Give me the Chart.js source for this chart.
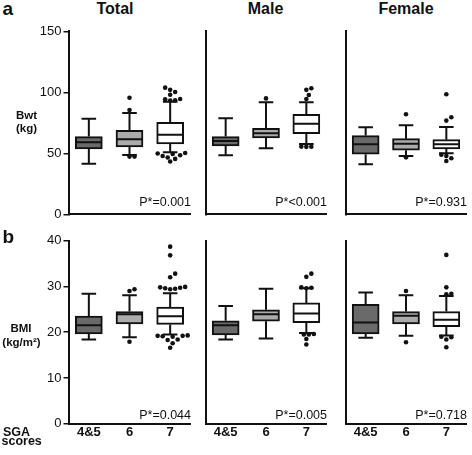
<!DOCTYPE html>
<html>
<head>
<meta charset="utf-8">
<script src="https://cdn.jsdelivr.net/npm/chart.js@4.4.0/dist/chart.umd.min.js"></script>
<style>
  html, body { margin: 0; padding: 0; background: #fff; }
  body { width: 472px; height: 455px; position: relative; overflow: hidden;
         font-family: "Liberation Sans", Arial, sans-serif; color: #111; }
  canvas { position: absolute; }
  .txt { position: absolute; white-space: nowrap; line-height: 1; width: 200px; }
</style>
</head>
<body>
<script>
// x categories and y tick labels
const sgaLabels = ['4&5', '6', '7'];
const bwtTicks = [0, 50, 100, 150];
const bmiTicks = [0, 10, 20, 30, 40];

// five-number summaries per SGA group: [lower whisker, Q1, median, Q3, upper whisker]
const bwtTotal  = [[41.5, 53.6, 59.0, 63.7, 78.4], [48.6, 55.2, 61.5, 68.9, 83.1], [50.8, 57.6, 65.3, 75.4, 92.3]];
const bwtMale   = [[48.4, 56.0, 60.1, 63.7, 78.7], [54.1, 62.6, 66.4, 70.5, 91.8], [57.7, 66.1, 74.3, 82.0, 91.8]];
const bwtFemale = [[41.0, 49.2, 57.4, 64.5, 71.3], [47.8, 52.5, 57.9, 62.0, 73.0], [50.0, 53.6, 57.4, 61.2, 71.6]];
const bmiTotal  = [[18.4, 19.6, 21.5, 23.5, 28.4], [18.9, 21.8, 23.9, 24.5, 28.1], [19.5, 21.7, 23.5, 25.5, 28.5]];
const bmiMale   = [[18.4, 19.4, 21.5, 22.5, 25.7], [18.6, 22.4, 23.9, 24.9, 29.5], [19.8, 22.1, 24.1, 26.4, 29.6]];
const bmiFemale = [[18.8, 19.6, 22.1, 26.1, 28.7], [19.2, 21.8, 23.6, 24.5, 28.1], [19.3, 21.2, 22.7, 24.5, 27.9]];

// outliers per SGA group
const bwtTotalOut  = [[], [95.5, 85.5, 47.3, 47.3],
  [103.8, 102.0, 100.2, 98.0, 94.5, 94.3, 93.4, 93.2, 50.2, 49.8, 49.4, 48.4, 47.8, 46.5, 45.4, 43.3]];
const bwtMaleOut   = [[], [95.0], [103.3, 102.0, 97.8, 94.5, 55.5, 55.4, 55.3]];
const bwtFemaleOut = [[], [82.0, 46.7], [98.4, 79.5, 76.8, 48.8, 47.8, 45.9, 43.7]];
const bmiTotalOut  = [[], [29.4, 29.0, 17.9],
  [38.7, 36.8, 32.8, 32.0, 29.9, 29.8, 29.7, 29.6, 29.5, 29.4, 19.3, 19.2, 19.2, 19.1, 19.0, 18.4, 18.3, 17.6, 16.6]];
const bmiMaleOut   = [[], [], [32.8, 32.1, 29.8, 29.7, 29.6, 19.6, 19.5, 19.5, 18.5, 17.3]];
const bmiFemaleOut = [[], [29.0, 17.8], [36.9, 29.8, 28.4, 28.3, 19.0, 18.9, 18.4, 16.7]];

const pTotal = ['P*=0.001', 'P*=0.044'];
const pMale = ['P*<0.001', 'P*=0.005'];
const pFemale = ['P*=0.931', 'P*=0.718'];

const FONT = '"Liberation Sans", Arial, sans-serif';
const INK = '#111';
const boxFills = ['#6a6a6a', '#ababab', '#ffffff'];

// plot areas in page pixels
const cols = [{ left: 68.5, right: 190.5 }, { left: 205.5, right: 326.5 }, { left: 345.5, right: 466.5 }];
const rows = [{ top: 31.3, bottom: 214.3, pBase: 206.5 }, { top: 240.7, bottom: 423.7, pBase: 419.5 }];

function addText(text, x, baseline, size, weight, align) {
    const d = document.createElement('div');
    d.className = 'txt';
    d.textContent = text;
    d.style.fontSize = size + 'px';
    d.style.fontWeight = weight;
    d.style.textAlign = align;
    d.style.top = (baseline - 0.8465 * size) + 'px';
    const left = align === 'center' ? x - 100 : align === 'right' ? x - 200 : x;
    d.style.left = left + 'px';
    document.body.appendChild(d);
}

// spread overlapping outliers sideways (simple beeswarm, in pixels)
function swarm(values, idx, pxPerX, pxPerY) {
    const placed = [];
    return [...values].sort((a, b) => a - b).map(v => {
        const py = v * pxPerY;
        for (let k = 0; k < 40; k++) {
            const off = k === 0 ? 0 : (k % 2 ? 1 : -1) * Math.ceil(k / 2) * 2.5;
            if (placed.every(p => Math.hypot(p.px - off, p.py - py) >= 4.6)) {
                placed.push({ px: off, py });
                return { x: idx + off / pxPerX, y: v };
            }
        }
        return { x: idx, y: v };
    });
}

function makePanel(row, col, stats, outliers, ticks, showY, showX) {
    const area = { l: cols[col].left, r: cols[col].right, t: rows[row].top, b: rows[row].bottom };
    const cl = Math.floor(area.l) - 50, ct = Math.floor(area.t) - 12;
    const cw = Math.ceil(area.r) + 5 - cl, ch = Math.ceil(area.b) + 24 - ct;
    const canvas = document.createElement('canvas');
    canvas.width = cw; canvas.height = ch;
    canvas.style.left = cl + 'px'; canvas.style.top = ct + 'px';
    document.body.appendChild(canvas);

    const yMax = ticks[ticks.length - 1];
    const pxPerX = (area.r - area.l) / 3;
    const pxPerY = (area.b - area.t) / yMax;
    const outPts = outliers.flatMap((vals, i) => swarm(vals, i, pxPerX, pxPerY));

    const whiskers = {
        id: 'whiskers',
        afterDatasetDraw(chart, args) {
            if (args.index !== 0) return;
            const ctx = chart.ctx, y = chart.scales.y;
            ctx.save();
            ctx.strokeStyle = INK;
            ctx.lineWidth = 2;
            ctx.beginPath();
            args.meta.data.forEach((bar, i) => {
                const [lo, q1, med, q3, hi] = stats[i];
                const half = bar.width / 2, cap = bar.width * 0.27;
                const yLo = y.getPixelForValue(lo), yHi = y.getPixelForValue(hi);
                ctx.moveTo(bar.x, y.getPixelForValue(q3)); ctx.lineTo(bar.x, yHi);
                ctx.moveTo(bar.x - cap, yHi); ctx.lineTo(bar.x + cap, yHi);
                ctx.moveTo(bar.x, y.getPixelForValue(q1)); ctx.lineTo(bar.x, yLo);
                ctx.moveTo(bar.x - cap, yLo); ctx.lineTo(bar.x + cap, yLo);
                const yMed = y.getPixelForValue(med);
                ctx.moveTo(bar.x - half + 1, yMed); ctx.lineTo(bar.x + half - 1, yMed);
            });
            ctx.stroke();
            ctx.restore();
        }
    };

    new Chart(canvas, {
        type: 'bar',
        data: {
            datasets: [{
                type: 'bar',
                data: stats.map((s, i) => ({ x: i, y: [s[1], s[3]] })),
                backgroundColor: boxFills,
                borderColor: INK,
                borderWidth: 2,
                borderSkipped: false,
                barThickness: 27,
                order: 2
            }, {
                type: 'scatter',
                data: outPts,
                pointRadius: 2.3,
                pointBackgroundColor: INK,
                pointBorderWidth: 0,
                order: 1
            }]
        },
        options: {
            responsive: false,
            animation: false,
            devicePixelRatio: 1,
            layout: { padding: { top: area.t - ct, right: cl + cw - area.r, left: 0, bottom: 0 } },
            plugins: { legend: { display: false }, tooltip: { enabled: false } },
            scales: {
                x: {
                    type: 'linear', min: -0.5, max: 2.5, offset: false,
                    afterBuildTicks: s => { s.ticks = sgaLabels.map((_, i) => ({ value: i })); },
                    afterFit: s => { s.height = ct + ch - area.b; },
                    border: { color: INK, width: 2 },
                    grid: { display: false, drawTicks: false },
                    ticks: {
                        display: showX, padding: 1, color: INK, autoSkip: false, maxRotation: 0,
                        font: { family: FONT, size: 13, weight: 'bold' },
                        callback: v => sgaLabels[v]
                    }
                },
                y: {
                    min: ticks[0], max: yMax,
                    afterBuildTicks: s => { s.ticks = ticks.map(v => ({ value: v })); },
                    afterFit: s => { s.width = area.l - cl; },
                    border: { color: INK, width: 2 },
                    grid: { display: showY, drawOnChartArea: false, drawTicks: true, tickLength: 5, color: INK, lineWidth: 1.5 },
                    ticks: { display: showY, padding: 2, color: INK, font: { family: FONT, size: 13 } }
                }
            }
        },
        plugins: [whiskers]
    });
}

makePanel(0, 0, bwtTotal, bwtTotalOut, bwtTicks, true, false);
makePanel(0, 1, bwtMale, bwtMaleOut, bwtTicks, false, false);
makePanel(0, 2, bwtFemale, bwtFemaleOut, bwtTicks, false, false);
makePanel(1, 0, bmiTotal, bmiTotalOut, bmiTicks, true, true);
makePanel(1, 1, bmiMale, bmiMaleOut, bmiTicks, false, true);
makePanel(1, 2, bmiFemale, bmiFemaleOut, bmiTicks, false, true);

// p-values, bottom right of each panel
[pTotal, pMale, pFemale].forEach((ps, c) => {
    ps.forEach((p, r) => addText(p, cols[c].right + 0.5, rows[r].pBase, 12.5, 'normal', 'right'));
});

addText('a', 2.5, 15, 19, 'bold', 'left');
addText('b', 2.5, 243, 19, 'bold', 'left');
addText('Total', 115, 15, 16, 'bold', 'center');
addText('Male', 265.5, 15, 16, 'bold', 'center');
addText('Female', 406, 15, 16, 'bold', 'center');
addText('Bwt', 26.5, 120, 11.5, 'bold', 'center');
addText('(kg)', 26.5, 132.5, 11.5, 'bold', 'center');
addText('BMI', 21, 333, 11.5, 'bold', 'center');
addText('(kg/m²)', 21.5, 346.5, 11.5, 'bold', 'center');
addText('SGA', 3, 436.5, 12.5, 'bold', 'left');
addText('scores', 1.5, 446, 12.5, 'bold', 'left');
</script>
</body>
</html>
